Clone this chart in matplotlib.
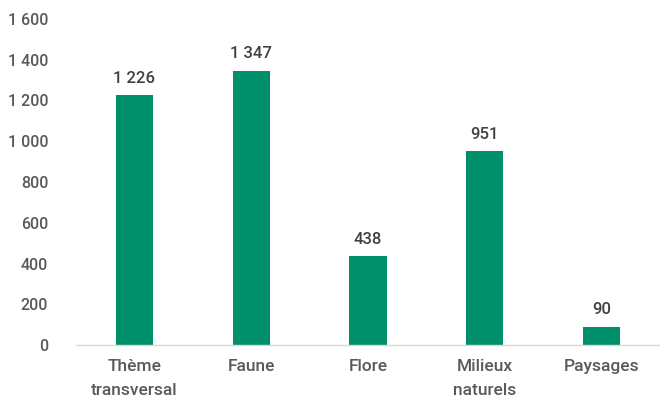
import matplotlib.pyplot as plt
from matplotlib.ticker import FuncFormatter

plt.rcParams['font.family'] = ['Roboto', 'DejaVu Sans']
plt.rcParams['font.weight'] = 'medium'

categories = ['Thème\ntransversal', 'Faune', 'Flore', 'Milieux\nnaturels', 'Paysages']
values = [1226, 1347, 438, 951, 90]
yticks = [0, 200, 400, 600, 800, 1000, 1200, 1400, 1600]

green = '#008F6B'
tick_color = '#595959'

fig = plt.figure(figsize=(6.6, 4.05), dpi=100)
ax = fig.add_axes([76 / 660, 60 / 405, 584 / 660, 326 / 405])

x = range(len(categories))
ax.bar(x, values, width=0.32, color=green)

for xi, v in zip(x, values):
    ax.text(xi, v + 45, f'{v:,}'.replace(',', ' '), ha='center', va='bottom',
            fontsize=12, color='#404040')

ax.set_xlim(-0.5, len(categories) - 0.5)
ax.set_ylim(0, 1600)
ax.set_yticks(yticks)
ax.yaxis.set_major_formatter(FuncFormatter(lambda v, p: f'{int(v):,}'.replace(',', ' ')))
ax.set_xticks(list(x))
ax.set_xticklabels(categories, linespacing=1.75)

for s in ['top', 'right', 'left']:
    ax.spines[s].set_visible(False)
ax.spines['bottom'].set_color('#D9D9D9')
ax.spines['bottom'].set_linewidth(1)

ax.tick_params(axis='y', length=0, pad=20, labelsize=11.5, labelcolor=tick_color)
ax.tick_params(axis='x', length=0, pad=10, labelsize=12.5, labelcolor=tick_color)

fig.savefig('out.png', dpi=100)
